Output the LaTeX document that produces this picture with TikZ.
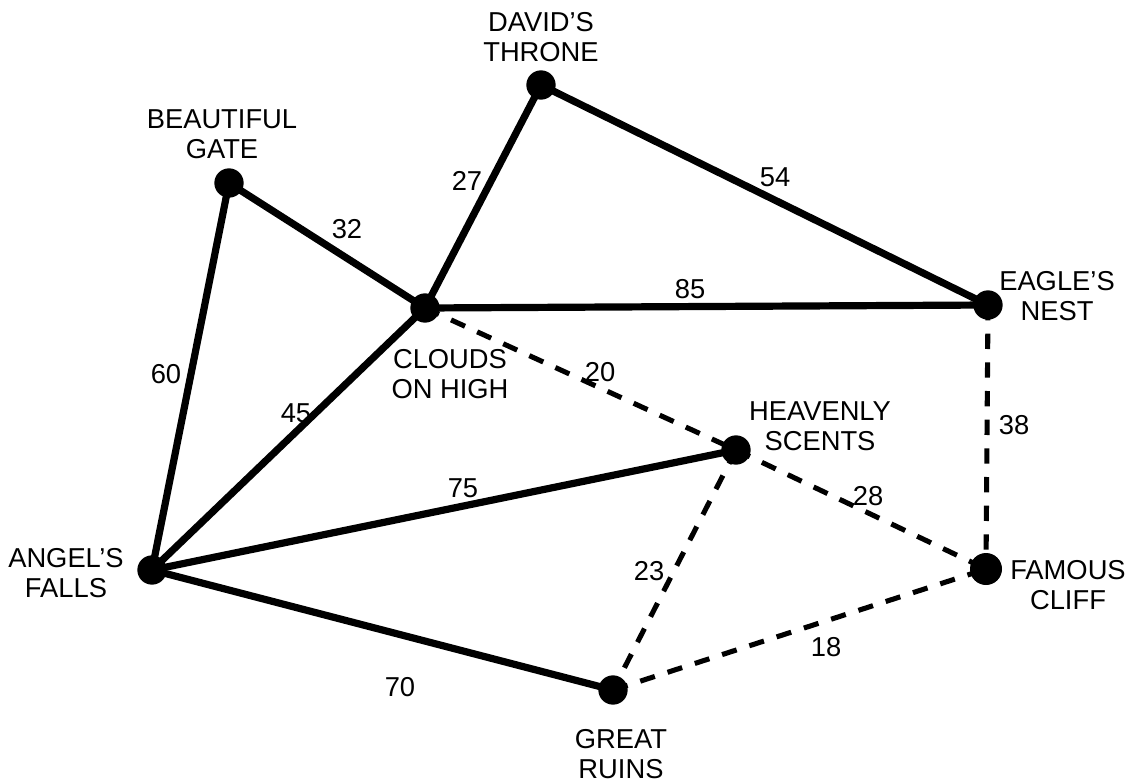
\documentclass[tikz,border=0pt]{standalone}
\usepackage{fontspec}
\setmainfont{Liberation Sans}
\begin{document}
\begin{tikzpicture}[x=0.75pt,y=-0.75pt,
  site/.style={circle,fill=black,inner sep=0pt,minimum size=22pt},
  bigsite/.style={circle,fill=black,inner sep=0pt,minimum size=24pt},
  road/.style={line width=5.4pt},
  trail/.style={line width=3.8pt,dash pattern=on 11.5pt off 10pt},
  sitelabel/.style={align=center,font=\fontsize{20.5}{22.5}\selectfont,inner sep=0pt},
  distlabel/.style={font=\fontsize{20.5}{22.5}\selectfont,inner sep=0pt}]
\useasboundingbox (0,0) rectangle (1133,782);
\coordinate (dt) at (541,85);
\coordinate (bg) at (229,183);
\coordinate (ch) at (425,308);
\coordinate (en) at (988,305);
\coordinate (hs) at (736,450);
\coordinate (af) at (152,570);
\coordinate (fc) at (986,569);
\coordinate (gr) at (613,690);
% roads
\draw[road] (bg) -- (ch);
\draw[road] (ch) -- (dt);
\draw[road] (dt) -- (en);
\draw[road] (ch) -- (en);
\draw[road] (bg) -- (af);
\draw[road] (af) -- (ch);
\draw[road] (af) -- (hs);
\draw[road] (af) -- (gr);
% trails
\draw[trail] (ch) -- (hs);
\draw[trail] (en) -- (fc);
\draw[trail] (hs) -- (fc);
\draw[trail] (hs) -- (gr);
\draw[trail] (gr) -- (fc);
% sites
\node[site] (ndt) at (dt) {};
\node[site] (nbg) at (bg) {};
\node[site] (nch) at (ch) {};
\node[site] (nen) at (en) {};
\node[site] (nhs) at (hs) {};
\node[site] (naf) at (af) {};
\node[bigsite] (nfc) at (fc) {};
\node[site] (ngr) at (gr) {};
% names
\node[sitelabel] (ldt) at (541,37) {DAVID'S\\THRONE};
\node[sitelabel] (lbg) at (222,134) {BEAUTIFUL\\GATE};
\node[sitelabel] (lch) at (450,374) {CLOUDS\\ON HIGH};
\node[sitelabel] (len) at (1057,296) {EAGLE'S\\NEST};
\node[sitelabel] (lhs) at (820,426) {HEAVENLY\\SCENTS};
\node[sitelabel] (laf) at (66,573) {ANGEL'S\\FALLS};
\node[sitelabel] (lfc) at (1068,585) {FAMOUS\\CLIFF};
\node[sitelabel] (lgr) at (621,754) {GREAT\\RUINS};
% distances
\node[distlabel] (d32) at (347,229) {32};
\node[distlabel] (d27) at (467,181) {27};
\node[distlabel] (d54) at (775,177) {54};
\node[distlabel] (d85) at (690,289) {85};
\node[distlabel] (d60) at (166,374) {60};
\node[distlabel] (d45) at (296,413) {45};
\node[distlabel] (d20) at (600,372) {20};
\node[distlabel] (d38) at (1014,425) {38};
\node[distlabel] (d75) at (463,488) {75};
\node[distlabel] (d28) at (868,496) {28};
\node[distlabel] (d23) at (649,571) {23};
\node[distlabel] (d18) at (826,647) {18};
\node[distlabel] (d70) at (400,687) {70};
\end{tikzpicture}
\end{document}
